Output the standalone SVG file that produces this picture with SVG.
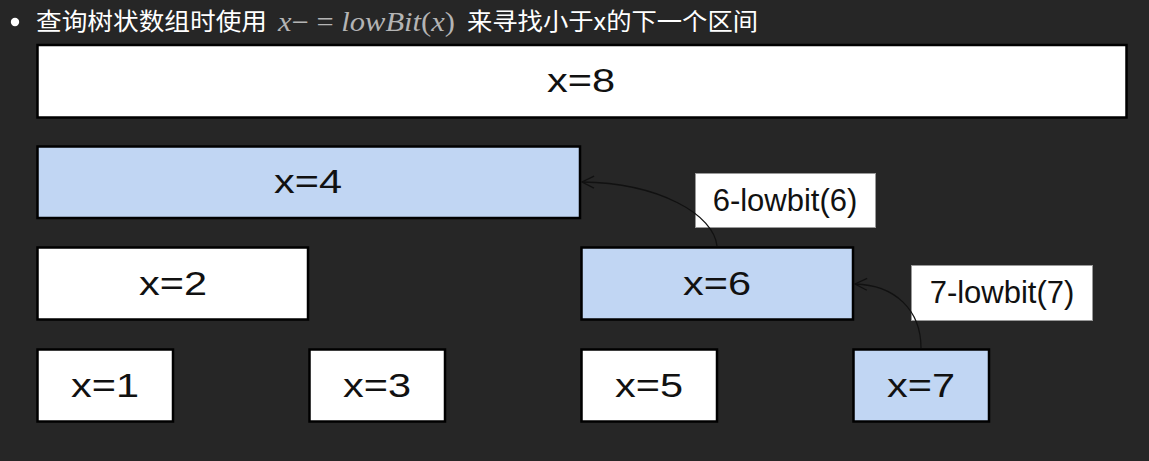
<svg xmlns="http://www.w3.org/2000/svg" width="1149" height="461" viewBox="0 0 1149 461">
<defs>
<style>
.node rect{stroke:#000;stroke-width:2.5}
.w{fill:#fff}
.b{fill:#c1d6f3}
.nt{font-family:"Liberation Sans",Arial,sans-serif;font-size:33px;fill:#111;text-anchor:middle}
.lbl rect{fill:#fff;stroke:#999;stroke-width:1}
.lt{font-family:"Liberation Sans",Arial,sans-serif;font-size:31px;fill:#111;text-anchor:middle}
.cn{fill:none;stroke:#111;stroke-width:1.3}
.hd{font-family:"Noto Sans CJK SC","Noto Sans",sans-serif;font-size:24px;fill:#fff}
.mt{font-family:"Liberation Serif","Times New Roman",serif;font-size:27px;fill:#b4b4b4}
</style>
<marker id="arr" markerWidth="16" markerHeight="16" refX="13" refY="8" orient="auto" markerUnits="userSpaceOnUse">
<path d="M1,2 L13,8 L1,14" fill="none" stroke="#111" stroke-width="1.3"/>
</marker>
</defs>
<rect x="0" y="0" width="1149" height="461" fill="#262626"/>
<g id="header">
<circle cx="15" cy="22" r="4.2" fill="#fff"/>
<text class="hd" x="36" y="30" textLength="231" lengthAdjust="spacingAndGlyphs">查询树状数组时使用</text>
<text class="mt" x="278" y="31" textLength="177" lengthAdjust="spacingAndGlyphs"><tspan font-style="italic">x</tspan>− = <tspan font-style="italic">lowBit</tspan>(<tspan font-style="italic">x</tspan>)</text>
<text class="hd" x="467" y="30" textLength="291" lengthAdjust="spacingAndGlyphs">来寻找小于x的下一个区间</text>
</g>
<g id="n8" class="node"><rect class="w" x="37.5" y="45" width="1089" height="72.5"/><text class="nt" x="581" y="92" textLength="68" lengthAdjust="spacingAndGlyphs">x=8</text></g>
<g id="n4" class="node"><rect class="b" x="37.5" y="146.5" width="542.5" height="71.5"/><text class="nt" x="308" y="193" textLength="68" lengthAdjust="spacingAndGlyphs">x=4</text></g>
<g id="n2" class="node"><rect class="w" x="37.5" y="247.5" width="270.5" height="72"/><text class="nt" x="173" y="295" textLength="68" lengthAdjust="spacingAndGlyphs">x=2</text></g>
<g id="n6" class="node"><rect class="b" x="581.5" y="247.5" width="271.5" height="72"/><text class="nt" x="717" y="295" textLength="68" lengthAdjust="spacingAndGlyphs">x=6</text></g>
<g id="n1" class="node"><rect class="w" x="37.5" y="349.5" width="135.5" height="72"/><text class="nt" x="105" y="397" textLength="68" lengthAdjust="spacingAndGlyphs">x=1</text></g>
<g id="n3" class="node"><rect class="w" x="309.5" y="349.5" width="135.5" height="72"/><text class="nt" x="377" y="397" textLength="68" lengthAdjust="spacingAndGlyphs">x=3</text></g>
<g id="n5" class="node"><rect class="w" x="581.5" y="349.5" width="135.5" height="72"/><text class="nt" x="649" y="397" textLength="68" lengthAdjust="spacingAndGlyphs">x=5</text></g>
<g id="n7" class="node"><rect class="b" x="853.5" y="349.5" width="135.5" height="72"/><text class="nt" x="921" y="397" textLength="68" lengthAdjust="spacingAndGlyphs">x=7</text></g>
<g id="lbl6" class="lbl"><rect x="695.5" y="173.5" width="180" height="54"/><text class="lt" x="785" y="211">6-lowbit(6)</text></g>
<g id="lbl7" class="lbl"><rect x="911.5" y="265.5" width="181" height="55"/><text class="lt" x="1002" y="303">7-lowbit(7)</text></g>
<g id="connectors">
<path class="cn" d="M717,246 C714,215 660,183 582,182" marker-end="url(#arr)"/>
<path class="cn" d="M921,348 C921,310 895,285 855,284" marker-end="url(#arr)"/>
</g>
</svg>
